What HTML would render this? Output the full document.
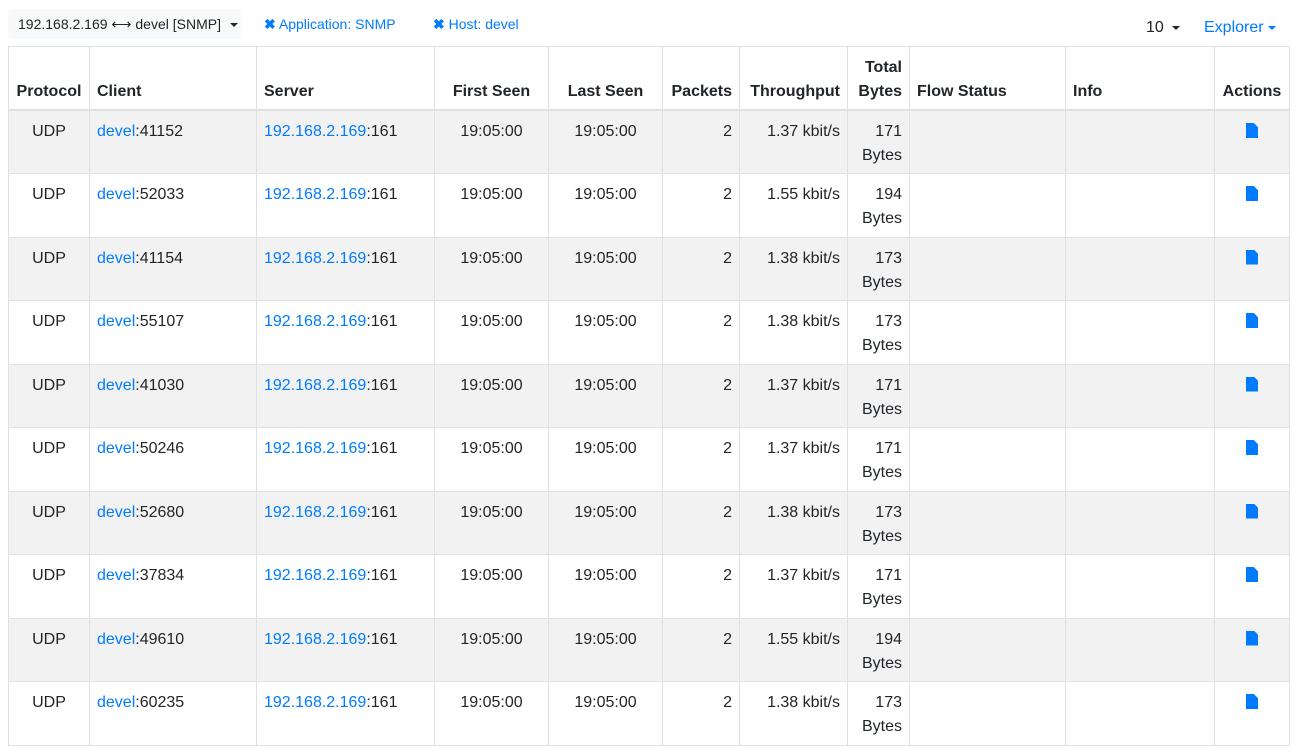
<!DOCTYPE html>
<html><head><meta charset="utf-8"><style>
body{margin:0;width:1298px;height:753px;background:#fff;font-family:"Liberation Sans",Arial,sans-serif;color:#212529;position:relative;overflow:hidden}
a{color:#007bff;text-decoration:none}
.top{position:absolute;font-size:14px}
.btn{left:8px;top:9px;width:233px;height:30px;background:#f8f9fa;border-radius:4px;line-height:30px;box-sizing:border-box;padding-left:10px}
.caret{display:inline-block;width:0;height:0;border-left:4px solid transparent;border-right:4px solid transparent;border-top:4px solid currentColor;vertical-align:middle;margin-left:6px}
table{position:absolute;left:8px;top:46px;width:1281px;border-collapse:collapse;table-layout:fixed;font-size:16px}
th,td{border:1px solid #dee2e6;padding:9px 7px 5px 7px;vertical-align:top;line-height:24px}
th{vertical-align:bottom;font-weight:bold;border-bottom:2px solid #dee2e6;height:48px;padding-top:9px;padding-bottom:5px}
tbody tr{height:63.5px}
tbody tr:nth-child(odd){background:#f2f2f2}
.c{text-align:center}.r{text-align:right}
.doc{display:inline-block;width:12px;height:15px;background:#007bff;clip-path:polygon(0 0,65% 0,100% 28%,100% 100%,0 100%);margin-top:3px}
</style></head><body>
<div class="top btn">192.168.2.169 ⟷ devel [SNMP]<span class="caret" style="margin-left:9px"></span></div>
<a class="top" style="left:264px;top:16px" href="#"><b>✖</b> Application: SNMP</a>
<a class="top" style="left:433px;top:16px" href="#"><b>✖</b> Host: devel</a>
<div class="top" style="left:1146px;top:19px;font-size:16px">10<span class="caret" style="margin-left:8px"></span></div>
<a class="top" style="left:1204px;top:19px;font-size:16px" href="#">Explorer<span class="caret" style="margin-left:4px"></span></a>
<table>
<colgroup><col style="width:81px"><col style="width:167px"><col style="width:178px"><col style="width:114px"><col style="width:114px"><col style="width:77px"><col style="width:108px"><col style="width:62px"><col style="width:156px"><col style="width:149px"><col style="width:75px"></colgroup>
<thead><tr>
<th>Protocol</th>
<th style="text-align:left">Client</th>
<th style="text-align:left">Server</th>
<th class="c">First Seen</th>
<th class="c">Last Seen</th>
<th class="r">Packets</th>
<th class="r">Throughput</th>
<th class="r">Total Bytes</th>
<th style="text-align:left">Flow Status</th>
<th style="text-align:left">Info</th>
<th class="c">Actions</th>
</tr></thead>
<tbody id="tb"></tbody></table>
<script>
const ports=[41152,52033,41154,55107,41030,50246,52680,37834,49610,60235];
const thr=["1.37","1.55","1.38","1.38","1.37","1.37","1.38","1.37","1.55","1.38"];
const bytes=[171,194,173,173,171,171,173,171,194,173];
const tb=document.getElementById('tb');
ports.forEach((p,i)=>{
 const tr=document.createElement('tr');
 
 
 tr.innerHTML=`<td class="c">UDP</td><td><a href="#">devel</a>:${p}</td><td><a href="#">192.168.2.169</a>:161</td><td class="c">19:05:00</td><td class="c">19:05:00</td><td class="r">2</td><td class="r">${thr[i]} kbit/s</td><td class="r">${bytes[i]}<br>Bytes</td><td></td><td></td><td class="c"><span class="doc"></span></td>`;
 tb.appendChild(tr);
});
</script>
</body></html>
